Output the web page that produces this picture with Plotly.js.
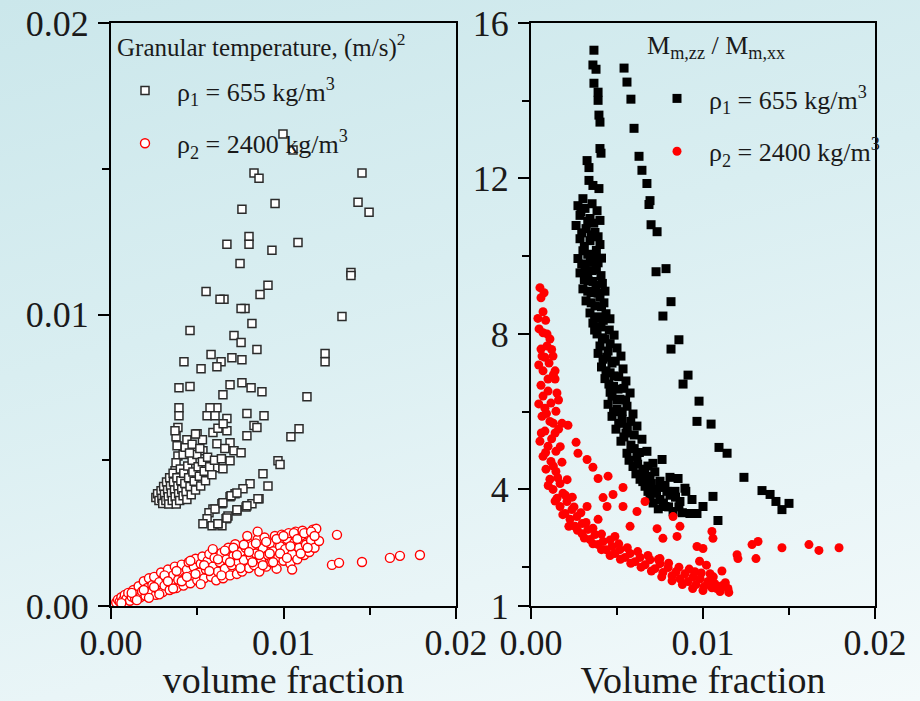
<!DOCTYPE html>
<html>
<head>
<meta charset="utf-8">
<script src="https://cdn.plot.ly/plotly-3.0.1.min.js"></script>
<style>
html,body{margin:0;padding:0;}
body{width:920px;height:701px;overflow:hidden;background:linear-gradient(165deg,#cbe7eb 0%,#d9eef1 40%,#e9f5f7 75%,#f4fafb 100%);}
#chart{width:920px;height:701px;}
</style>
</head>
<body>
<div id="chart"></div>
<script>
// ---- Left panel: granular temperature (m/s)^2 vs volume fraction ----
const tempRho1 = [
[0.00997,0.01619],[0.01055,0.01564],[0.00829,0.01485],[0.00858,0.01467],[0.01455,0.01485],
[0.01432,0.01385],[0.01496,0.01351],[0.00759,0.01361],[0.00951,0.01381],[0.00800,0.01268],
[0.00800,0.01241],[0.00672,0.01241],[0.00933,0.01220],[0.01084,0.01247],[0.00748,0.01175],
[0.01391,0.01144],[0.01391,0.01134],[0.00551,0.01079],[0.00910,0.01100],[0.00864,0.01069],
[0.00655,0.01052],[0.00632,0.01052],[0.00777,0.01021],[0.00754,0.01021],[0.00817,0.00969],
[0.01339,0.00993],[0.00458,0.00945],[0.00713,0.00928],[0.00754,0.00904],[0.00846,0.00880],
[0.01241,0.00866],[0.01241,0.00838],[0.00580,0.00863],[0.00638,0.00838],[0.00701,0.00852],
[0.00759,0.00845],[0.00423,0.00838],[0.00522,0.00814],[0.00614,0.00821],[0.00394,0.00749],
[0.00458,0.00753],[0.00690,0.00759],[0.00759,0.00766],[0.00812,0.00749],[0.00875,0.00735],
[0.00649,0.00725],[0.01136,0.00718],
[0.00394,0.00680],[0.00394,0.00653],[0.00388,0.00612],[0.00377,0.00581],[0.00383,0.00550],
[0.00388,0.00515],[0.00377,0.00491],[0.00371,0.00464],[0.00614,0.00680],[0.00574,0.00680],
[0.00557,0.00653],[0.00603,0.00653],[0.00672,0.00643],[0.00788,0.00660],[0.00887,0.00653],
[0.00829,0.00619],[0.00846,0.00612],[0.00499,0.00591],[0.00591,0.00595],[0.00672,0.00601],
[0.00788,0.00584],[0.01043,0.00581],[0.01090,0.00608],[0.00690,0.00560],[0.00614,0.00557],
[0.00371,0.00601],[0.00533,0.00533],[0.00713,0.00533],[0.00754,0.00526],[0.00690,0.00498],
[0.00968,0.00498],[0.00980,0.00485],[0.00603,0.00474],[0.00649,0.00471],[0.00881,0.00454],
[0.00806,0.00419],[0.00910,0.00412],[0.00765,0.00402],[0.00719,0.00385],[0.00690,0.00375],
[0.00643,0.00351],[0.00591,0.00333],[0.00858,0.00368],[0.00817,0.00351],[0.00783,0.00340],
[0.00730,0.00326],[0.00678,0.00309],[0.00667,0.00299],[0.00568,0.00320],[0.00557,0.00299],
[0.00533,0.00282],[0.00643,0.00275],[0.00586,0.00275],[0.00620,0.00282],[0.00603,0.00333],
[0.00649,0.00354],[0.00696,0.00378],[0.00730,0.00388],[0.00620,0.00282],[0.00672,0.00302],
[0.00730,0.00330],[0.00788,0.00344],[0.00852,0.00368],
[0.00260,0.00372],[0.00270,0.00385],[0.00278,0.00362],[0.00290,0.00395],[0.00295,0.00370],
[0.00300,0.00352],[0.00305,0.00410],[0.00310,0.00383],[0.00318,0.00362],[0.00322,0.00425],
[0.00328,0.00398],[0.00332,0.00375],[0.00335,0.00350],[0.00340,0.00440],[0.00345,0.00412],
[0.00350,0.00388],[0.00355,0.00362],[0.00360,0.00455],[0.00362,0.00425],[0.00368,0.00398],
[0.00372,0.00375],[0.00378,0.00350],[0.00382,0.00440],[0.00388,0.00412],[0.00392,0.00385],
[0.00398,0.00362],[0.00402,0.00470],[0.00405,0.00430],[0.00410,0.00400],[0.00418,0.00378],
[0.00422,0.00455],[0.00428,0.00420],[0.00435,0.00392],[0.00440,0.00365],[0.00445,0.00480],
[0.00450,0.00440],[0.00458,0.00410],[0.00465,0.00382],[0.00470,0.00500],[0.00475,0.00460],
[0.00482,0.00428],[0.00490,0.00398],[0.00498,0.00520],[0.00505,0.00478],[0.00512,0.00445],
[0.00520,0.00412],[0.00530,0.00495],[0.00540,0.00462],[0.00548,0.00430],[0.00560,0.00510],
[0.00572,0.00478],[0.00585,0.00450],[0.00600,0.00500],[0.00418,0.00520],[0.00430,0.00545],
[0.00440,0.00570],[0.00455,0.00525],[0.00470,0.00555],[0.00515,0.00540],[0.00530,0.00570],
[0.00490,0.00590],[0.00640,0.00505],[0.00660,0.00540],[0.00620,0.00610],[0.00650,0.00625]
];
const tempRho2 = [
[0.0003,0.00012],[0.0004,0.00022],[0.0005,0.00015],[0.0006,0.00030],[0.0007,0.00020],
[0.0008,0.00038],[0.0009,0.00025],[0.0010,0.00045],[0.0011,0.00018],[0.0012,0.00032],
[0.0013,0.00055],[0.0014,0.00025],[0.0015,0.00042],[0.0016,0.00068],[0.0017,0.00030],
[0.0018,0.00050],[0.0019,0.00085],[0.0020,0.00035],[0.0021,0.00062],[0.0022,0.00095],
[0.0023,0.00045],[0.0024,0.00072],[0.0025,0.00100],[0.0026,0.00038],[0.0027,0.00058],
[0.0028,0.00082],[0.0029,0.00115],[0.0030,0.00048],[0.0031,0.00070],[0.0032,0.00095],
[0.0033,0.00125],[0.0034,0.00055],[0.0035,0.00080],[0.0036,0.00105],[0.0037,0.00135],
[0.0038,0.00062],[0.0039,0.00090],[0.0040,0.00118],[0.0041,0.00142],[0.0042,0.00070],
[0.0043,0.00098],[0.0044,0.00125],[0.0045,0.00150],[0.0046,0.00078],[0.0047,0.00105],
[0.0048,0.00135],[0.0049,0.00162],[0.0050,0.00088],[0.0051,0.00115],[0.0052,0.00145],
[0.0053,0.00170],[0.0054,0.00095],[0.0055,0.00125],[0.0056,0.00155],[0.0057,0.00178],
[0.0058,0.00100],[0.0059,0.00135],[0.0060,0.00165],[0.0061,0.00088],[0.0062,0.00118],
[0.0063,0.00150],[0.0064,0.00182],[0.0065,0.00095],[0.0066,0.00128],[0.0067,0.00160],
[0.0068,0.00200],[0.0069,0.00105],[0.0070,0.00140],[0.0071,0.00172],[0.0072,0.00212],
[0.0073,0.00110],[0.0074,0.00150],[0.0075,0.00185],[0.0076,0.00118],[0.0077,0.00158],
[0.0078,0.00200],[0.0079,0.00220],[0.0080,0.00130],[0.0081,0.00170],[0.0082,0.00208],
[0.0083,0.00140],[0.0084,0.00180],[0.0085,0.00228],[0.0086,0.00118],[0.0087,0.00160],
[0.0088,0.00198],[0.0089,0.00235],[0.0090,0.00135],[0.0091,0.00175],[0.0092,0.00215],
[0.0093,0.00150],[0.0094,0.00188],[0.0095,0.00240],[0.0096,0.00128],[0.0097,0.00168],
[0.0098,0.00205],[0.0099,0.00245],[0.0100,0.00155],[0.0101,0.00195],[0.0102,0.00230],
[0.0103,0.00250],[0.0104,0.00145],[0.0105,0.00178],[0.0106,0.00215],[0.0107,0.00255],
[0.0108,0.00160],[0.0109,0.00200],[0.0110,0.00240],[0.0111,0.00258],[0.0112,0.00175],
[0.0113,0.00210],[0.0114,0.00245],[0.0115,0.00185],[0.0116,0.00225],[0.0117,0.00262],
[0.0118,0.00200],[0.0119,0.00265],[0.01206,0.00223],[0.0131,0.00244],[0.01281,0.00141],
[0.01322,0.00148],[0.01455,0.00151],[0.01617,0.00165],[0.01675,0.00172],[0.01791,0.00175],
[0.0006,0.00010],[0.0012,0.00045],[0.0015,0.00020],[0.0019,0.00055],[0.0022,0.00028],
[0.0025,0.00065],[0.0028,0.00040],[0.0031,0.00105],[0.0033,0.00085],[0.0036,0.00060],
[0.0038,0.00120],[0.0041,0.00085],[0.0044,0.00100],[0.0046,0.00155],[0.0049,0.00110],
[0.0052,0.00075],[0.0054,0.00140],[0.0057,0.00120],[0.0059,0.00195],[0.0062,0.00160],
[0.0064,0.00105],[0.0066,0.00190],[0.0069,0.00150],[0.0071,0.00200],[0.0073,0.00175],
[0.0075,0.00130],[0.0077,0.00210],[0.0080,0.00185],[0.0082,0.00150],[0.0084,0.00215],
[0.0086,0.00175],[0.0088,0.00140],[0.0090,0.00220],[0.0092,0.00180],[0.0094,0.00150],
[0.0096,0.00230],[0.0098,0.00180],[0.0100,0.00240],[0.0102,0.00165],[0.0104,0.00205],
[0.0106,0.00250],[0.0108,0.00230],[0.0110,0.00180],[0.0112,0.00250],[0.0114,0.00200],
[0.0116,0.00255],[0.0118,0.00240],[0.0085,0.00255],[0.0079,0.00240],[0.0105,0.00125]
];
// ---- Right panel: M_m,zz / M_m,xx vs volume fraction ----
const ratioRho1 = [
[0.00541,14.84],[0.00558,14.48],[0.00581,14.04],[0.00599,13.29],[0.00628,12.57],
[0.00645,12.21],[0.00674,11.87],[0.00692,11.43],[0.00686,11.33],[0.00698,10.81],
[0.00733,10.63],[0.00727,9.60],[0.00785,9.68],[0.00814,8.83],[0.00767,8.46],
[0.00860,7.85],[0.00814,7.61],[0.00913,6.94],[0.00884,6.71],[0.00977,6.27],
[0.00965,5.75],[0.01047,5.68],[0.01093,5.08],[0.01140,4.93],[0.01238,4.31],
[0.01343,3.97],[0.01390,3.87],[0.01424,3.69],[0.01459,3.48],[0.01500,3.64],
[0.00366,15.30],[0.00360,14.92],[0.00378,14.81],[0.00366,14.45],[0.00390,14.22],
[0.00390,14.01],[0.00395,13.63],[0.00401,13.45],[0.00401,12.77],[0.00407,12.65],
[0.00326,12.46],[0.00337,12.28],[0.00337,11.95],[0.00360,11.82],[0.00395,11.74],
[0.00302,11.48],
[0.00273,11.30],[0.00314,11.23],[0.00355,11.35],[0.00384,11.17],[0.00285,11.05],
[0.00343,10.97],[0.00401,10.92],[0.00262,10.79],[0.00320,10.71],[0.00372,10.61],
[0.00285,10.45],[0.00343,10.40],[0.00401,10.30],[0.00302,10.14],[0.00360,10.01],
[0.00273,9.94],[0.00390,9.83],[0.00314,9.75],[0.00355,9.63],[0.00285,9.57],
[0.00407,9.50],[0.00331,9.37],[0.00378,9.26],[0.00302,9.16],[0.00349,9.06],
[0.00401,8.95],[0.00320,8.85],[0.00372,8.72],[0.00424,8.80],[0.00343,8.54],
[0.00390,8.44],[0.00436,8.52],[0.00360,8.28],[0.00407,8.18],[0.00459,8.39],
[0.00384,8.00],[0.00430,7.87],[0.00483,7.97],[0.00401,7.69],[0.00448,7.56],
[0.00500,7.64],[0.00419,7.35],[0.00471,7.25],[0.00523,7.43],[0.00436,7.05],
[0.00483,6.92],[0.00535,7.10],[0.00453,6.71],[0.00506,6.58],[0.00552,6.79],
[0.00471,6.40],[0.00517,6.32],[0.00576,6.48],[0.00448,6.19],[0.00500,6.06],
[0.00558,6.14],[0.00471,5.88],[0.00529,5.81],[0.00593,5.94],[0.00494,5.55],
[0.00552,5.45],[0.00616,5.63],[0.00523,5.24],[0.00581,5.14],[0.00645,5.29],
[0.00558,4.93],[0.00616,4.85],[0.00674,4.98],[0.00762,4.77],[0.00593,4.59],
[0.00651,4.52],[0.00709,4.67],[0.00634,4.26],[0.00692,4.34],[0.00750,4.21],
[0.00808,4.31],[0.00855,4.28],[0.00663,4.08],[0.00721,4.00],[0.00779,4.10],
[0.00837,3.95],[0.00895,4.03],[0.00692,3.82],[0.00750,3.74],[0.00808,3.85],
[0.00866,3.69],[0.00936,3.74],[0.01000,3.56],[0.01058,3.82],[0.00924,3.38],
[0.00965,3.38],[0.00826,3.43],[0.01087,3.20],[0.00779,3.56],
[0.00290,11.15],[0.00330,10.90],[0.00365,10.85],[0.00295,10.60],[0.00350,10.55],
[0.00390,10.50],[0.00310,10.25],[0.00380,10.15],[0.00330,10.05],[0.00295,9.80],
[0.00345,9.85],[0.00410,9.95],[0.00330,9.55],[0.00380,9.65],[0.00310,9.40],
[0.00360,9.35],[0.00415,9.30],[0.00330,9.10],[0.00390,9.05],[0.00430,9.10],
[0.00350,8.80],[0.00410,8.70],[0.00370,8.40],[0.00420,8.35],[0.00455,8.10],
[0.00370,8.10],[0.00415,7.90],[0.00460,7.75],[0.00390,7.50],[0.00440,7.40],
[0.00490,7.30],[0.00410,7.15],[0.00460,7.00],[0.00510,6.90],[0.00430,6.85],
[0.00480,6.65],[0.00540,6.60],[0.00460,6.50],[0.00500,6.30],[0.00550,6.30],
[0.00480,6.00],[0.00530,6.00],[0.00580,5.75],[0.00510,5.70],[0.00560,5.60],
[0.00600,5.40],[0.00540,5.35],[0.00600,5.05],[0.00630,4.95],[0.00570,4.75],
[0.00620,4.65],[0.00680,4.60],[0.00610,4.40],[0.00660,4.40],[0.00720,4.45],
[0.00650,4.20],[0.00700,4.15],[0.00760,4.05],[0.00680,3.95],[0.00730,3.90],
[0.00790,3.95],[0.00710,3.65],[0.00770,3.65],[0.00840,3.80],[0.00800,3.55],
[0.00860,3.55],[0.00740,3.50],[0.00900,3.95],[0.00880,3.40]
];
const ratioRho2 = [
[0.00052,9.19],[0.00076,9.06],[0.00058,8.93],[0.00070,8.57],[0.00047,8.13],
[0.00070,8.03],[0.00093,8.00],[0.00110,7.87],[0.00093,7.69],[0.00058,7.61],
[0.00128,7.43],[0.00064,7.43],[0.00105,7.25],[0.00070,7.05],[0.00140,7.05],
[0.00099,6.84],[0.00140,6.84],[0.00058,6.68],[0.00151,6.48],[0.00099,6.53],
[0.00070,6.40],[0.00116,6.22],[0.00081,6.09],[0.00145,6.01],[0.00064,5.88],
[0.00110,5.75],[0.00081,5.50],[0.00140,5.45],[0.00052,5.24],[0.00099,5.11],
[0.00145,4.98],[0.00070,4.85],[0.00116,4.72],[0.00087,4.52],[0.00145,4.46],
[0.00110,4.26],[0.00169,4.15],[0.00128,4.00],[0.00186,3.90],[0.00151,3.77],
[0.00209,3.69],[0.00169,3.56],[0.00238,3.48],[0.00198,3.38],[0.00267,3.30],
[0.00227,3.23],[0.00297,3.12],[0.00256,3.05],[0.00331,2.97],[0.00297,2.86],
[0.00372,2.84],[0.00343,2.71],[0.00419,2.66],[0.00390,2.58],[0.00471,2.53],
[0.00436,2.45],[0.00517,2.45],[0.00488,2.35],[0.00576,2.35],[0.00547,2.25],
[0.00634,2.25],[0.00605,2.14],[0.00692,2.19],[0.00663,2.06],[0.00750,2.09],
[0.00721,1.96],[0.00797,1.99],[0.00767,1.86],[0.00843,1.88],[0.00820,1.78],
[0.00895,1.83],[0.00866,1.70],[0.00942,1.75],[0.00913,1.63],[0.00983,1.70],
[0.00959,1.55],[0.01029,1.63],[0.01006,1.50],[0.01070,1.57],[0.01052,1.47],
[0.01110,1.52],[0.01145,1.45],[0.01099,1.37],[0.00953,1.88],[0.01041,1.83],
[0.00750,2.22],
[0.00040,8.40],[0.00085,8.35],[0.00120,7.60],[0.00045,7.20],[0.00080,7.40],
[0.00130,6.95],[0.00045,6.20],[0.00160,6.30],[0.00090,5.95],[0.00130,5.70],
[0.00160,5.55],[0.00060,5.45],[0.00120,5.30],[0.00170,5.10],[0.00085,4.95],
[0.00130,4.60],[0.00180,4.70],[0.00100,4.10],[0.00155,4.30],[0.00210,4.25],
[0.00140,3.70],[0.00200,3.85],[0.00240,3.80],[0.00185,3.35],[0.00250,3.55],
[0.00220,3.05],[0.00290,3.40],[0.00270,2.95],[0.00320,3.15],[0.00310,2.75],
[0.00360,3.00],[0.00360,2.60],[0.00410,2.85],[0.00410,2.45],[0.00460,2.70],
[0.00460,2.30],[0.00510,2.60],[0.00520,2.20],[0.00560,2.50],[0.00580,2.10],
[0.00620,2.40],[0.00640,2.00],[0.00680,2.30],[0.00700,1.90],[0.00740,2.20],
[0.00760,1.75],[0.00800,2.10],[0.00820,1.65],[0.00860,2.00],[0.00880,1.55],
[0.00920,1.95],[0.00940,1.45],[0.00990,1.85],[0.01000,1.40],[0.01060,1.75],
[0.01080,1.45],[0.01130,1.60],[0.01150,1.35],[0.01020,2.05],[0.00980,2.15],
[0.01110,1.90],
[0.00180,5.70],[0.00215,5.65],[0.00262,5.21],[0.00273,4.93],[0.00326,4.77],
[0.00360,4.57],[0.00390,4.28],[0.00448,4.34],[0.00535,4.05],[0.00477,3.87],
[0.00419,3.79],[0.00442,3.56],[0.00326,3.56],[0.00535,3.56],[0.00616,3.43],
[0.00663,3.69],[0.00390,3.23],[0.00576,3.05],[0.00733,2.99],[0.00488,2.79],
[0.00826,3.30],[0.00866,3.05],[0.00767,2.74],[0.00849,2.79],[0.01052,2.92],
[0.01058,2.74],[0.00965,2.53],[0.01000,2.48],[0.01198,2.32],[0.01203,2.22],
[0.01285,2.58],[0.01320,2.66],[0.01308,2.22],[0.01459,2.50],[0.01616,2.58],
[0.01674,2.43],[0.01791,2.50]
];
const seriesNames = ['ρ<sub>1</sub> = 655 kg/m<sup>3</sup>', 'ρ<sub>2</sub> = 2400 kg/m<sup>3</sup>'];
const leftTitle = 'Granular temperature, (m/s)<sup>2</sup>';
const rightTitle = 'M<sub>m,zz</sub> / M<sub>m,xx</sub>';
const xTitleLeft = 'volume fraction';
const xTitleRight = 'Volume fraction';
const xTickVals = [0, 0.01, 0.02];
const xTickText = ['0.00', '0.01', '0.02'];
const yLeftTickVals = [0, 0.01, 0.02];
const yLeftTickText = ['0.00', '0.01', '0.02'];
const yRightTickVals = [1, 4, 8, 12, 16];

const xs = a => a.map(p => p[0]);
const ys = a => a.map(p => p[1]);
const FONT = 'Liberation Serif, Times New Roman, serif';

const traces = [
  {x: xs(tempRho1), y: ys(tempRho1), xaxis:'x', yaxis:'y', type:'scatter', mode:'markers',
   name: seriesNames[0], legend:'legend', legendgroup:'a',
   marker:{symbol:'square', size:8, color:'#ffffff', line:{color:'#2b2b2b', width:1.5}}},
  {x: xs(tempRho2), y: ys(tempRho2), xaxis:'x', yaxis:'y', type:'scatter', mode:'markers',
   name: seriesNames[1], legend:'legend', legendgroup:'b',
   marker:{symbol:'circle', size:9, color:'#ffffff', line:{color:'#ff0000', width:1.4}}},
  {x: xs(ratioRho1), y: ys(ratioRho1), xaxis:'x2', yaxis:'y2', type:'scatter', mode:'markers',
   name: seriesNames[0], legend:'legend2', legendgroup:'c',
   marker:{symbol:'square', size:9, color:'#000000', line:{width:0}}},
  {x: xs(ratioRho2), y: ys(ratioRho2), xaxis:'x2', yaxis:'y2', type:'scatter', mode:'markers',
   name: seriesNames[1], legend:'legend2', legendgroup:'d',
   marker:{symbol:'circle', size:9, color:'#ff0000', line:{width:0}}}
];

const axisCommon = {
  showline:true, linecolor:'#000', linewidth:2, mirror:true,
  ticks:'outside', ticklen:11, tickwidth:2, tickcolor:'#000',
  showgrid:false, zeroline:false,
  tickfont:{family:FONT, size:36, color:'#1a1a1a'},
};
const minorX = {tick0:0, dtick:0.005, ticks:'outside', ticklen:7, tickwidth:2, tickcolor:'#000'};
const yDomain = [1-606/701, 1-23/701];
const legendCommon = {
  xanchor:'left', yanchor:'top', bgcolor:'rgba(0,0,0,0)', borderwidth:0,
  font:{family:FONT, size:26, color:'#1a1a1a'},
  traceorder:'grouped', tracegroupgap:16, itemwidth:54,
  itemclick:false, itemdoubleclick:false
};

const layout = {
  width:920, height:701,
  paper_bgcolor:'rgba(0,0,0,0)', plot_bgcolor:'rgba(0,0,0,0)',
  margin:{l:0, r:0, t:0, b:0},
  font:{family:FONT, color:'#1a1a1a'},
  xaxis: Object.assign({}, axisCommon, {
    domain:[111/920, 456/920], range:[0,0.02], tickmode:'array', tickvals:xTickVals, ticktext:xTickText,
    minor:minorX, ticklabelstandoff:-7,
    title:{text:xTitleLeft, font:{family:FONT, size:38, color:'#1a1a1a'}, standoff:17},
    anchor:'y'}),
  yaxis: Object.assign({}, axisCommon, {
    domain:yDomain, range:[0,0.02], tickmode:'array', tickvals:yLeftTickVals, ticktext:yLeftTickText,
    minor:minorX, ticklabelstandoff:2,
    anchor:'x'}),
  xaxis2: Object.assign({}, axisCommon, {
    domain:[531/920, 875/920], range:[0,0.02], tickmode:'array', tickvals:xTickVals, ticktext:xTickText,
    minor:minorX, ticklabelstandoff:-7,
    title:{text:xTitleRight, font:{family:FONT, size:38, color:'#1a1a1a'}, standoff:17},
    anchor:'y2'}),
  yaxis2: Object.assign({}, axisCommon, {
    domain:yDomain, range:[1,16], tickmode:'array', tickvals:yRightTickVals,
    minor:{tick0:2, dtick:4, ticks:'outside', ticklen:7, tickwidth:2, tickcolor:'#000'},
    ticklabelstandoff:2,
    anchor:'x2'}),
  legend: Object.assign({}, legendCommon, {x:113/920, y:1-67/701}),
  legend2: Object.assign({}, legendCommon, {x:645/920, y:1-75/701}),
  annotations:[
    {xref:'paper', yref:'paper', x:115/920, y:1-46/701, xanchor:'left', yanchor:'middle',
     text:leftTitle, showarrow:false, font:{family:FONT, size:25, color:'#1a1a1a'}},
    {xref:'paper', yref:'paper', x:645/920, y:1-47/701, xanchor:'left', yanchor:'middle',
     text:rightTitle, showarrow:false, font:{family:FONT, size:26, color:'#1a1a1a'}}
  ],
  showlegend:true
};

Plotly.newPlot('chart', traces, layout, {displayModeBar:false, staticPlot:true});
</script>
</body>
</html>
